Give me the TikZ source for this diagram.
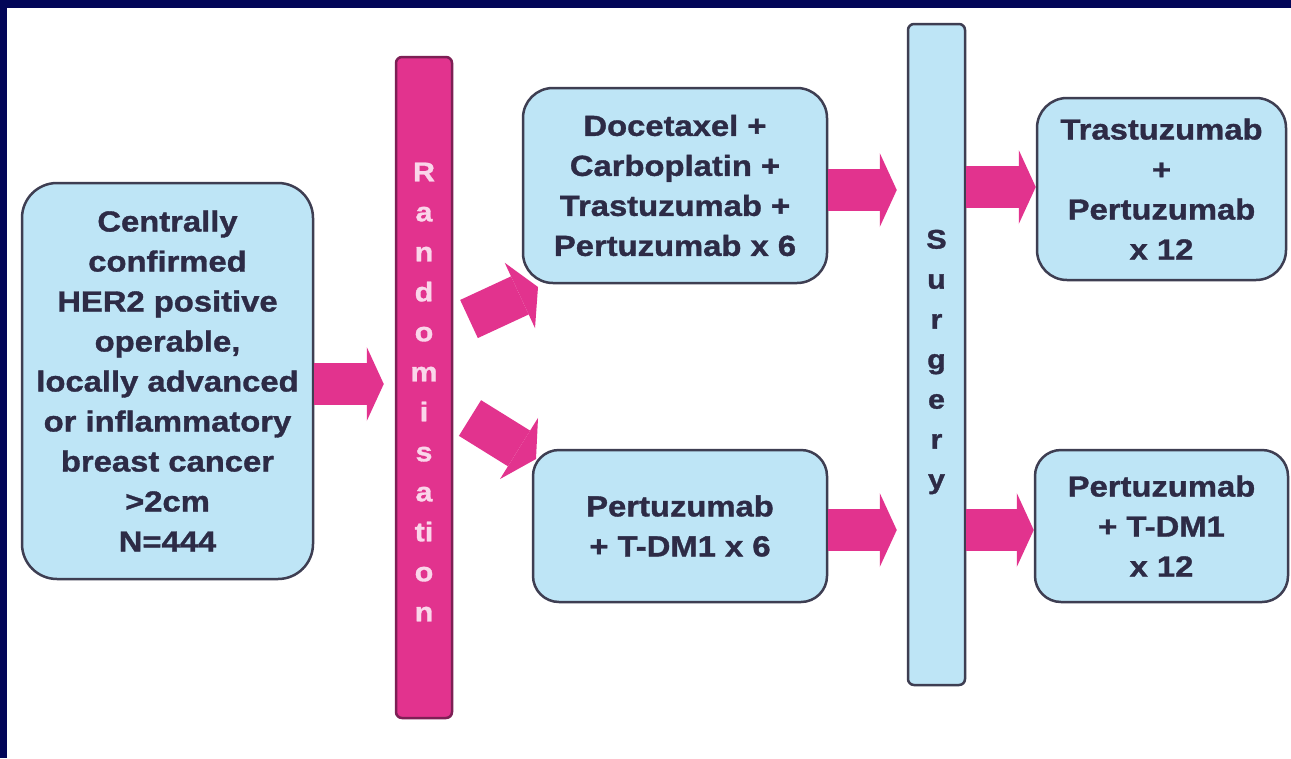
\documentclass[tikz,border=0pt]{standalone}
\usepackage{fontspec}
\setmainfont{Liberation Sans}[FakeStretch=1.13, BoldFeatures={FakeBold=1.2}]
\usetikzlibrary{arrows.meta}
\definecolor{navy}{RGB}{2,6,88}
\definecolor{pinkarrow}{RGB}{226,51,142}
\definecolor{pinkedge}{RGB}{125,32,85}
\definecolor{pinktxt}{RGB}{250,214,234}
\definecolor{boxfill}{RGB}{190,229,246}
\definecolor{boxline}{RGB}{62,62,82}
\definecolor{txt}{RGB}{45,43,70}
\tikzset{
  box/.style={draw=boxline, line width=2.5pt, fill=boxfill, rounded corners=30pt,
    align=center, text=txt, inner sep=0pt,
    font=\fontsize{29}{40}\selectfont\bfseries},
  bar/.style={line width=2.5pt, rounded corners=6pt, inner sep=0pt},
  bartxt/.style={align=center, inner sep=0pt, font=\fontsize{27}{40}\selectfont\bfseries},
  blockarrow/.style={draw=pinkarrow, line width=42pt, line cap=butt,
    -{Triangle[length=17pt,width=74pt,line width=0pt]}},
}
\begin{document}
\begin{tikzpicture}[x=1pt,y=-1pt]
\useasboundingbox (0,0) rectangle (1291,758);
\fill[white] (0,0) rectangle (1291,758);
\fill[navy] (0,0) rectangle (1291,8);
\fill[navy] (0,0) rectangle (7,758);

% boxes
\node[box, rounded corners=35pt, minimum width=291pt, minimum height=396pt] (left) at (167.5,381)
  {Centrally\\confirmed\\HER2 positive\\operable,\\locally advanced\\or inflammatory\\breast cancer\\>2cm\\N=444};
\node[box, minimum width=304pt, minimum height=195pt] (tm) at (675,185.5)
  {Docetaxel +\\Carboplatin +\\Trastuzumab +\\Pertuzumab x 6};
\node[box, rounded corners=26pt, minimum width=294pt, minimum height=152pt] (bm) at (680,526)
  {Pertuzumab\\+ T-DM1 x 6};
\node[box, minimum width=249pt, minimum height=182pt] (tr) at (1161.5,189)
  {Trastuzumab\\+\\Pertuzumab\\x 12};
\node[box, rounded corners=26pt, minimum width=253pt, minimum height=152pt] (br) at (1161.5,526)
  {Pertuzumab\\+ T-DM1\\x 12};

% bars
\node[bar, draw=pinkedge, fill=pinkarrow, minimum width=56pt, minimum height=661pt] (rand) at (424,387.5) {};
\node[bartxt, text=pinktxt] (randlabel) at (424,392)
  {R\\a\\n\\d\\o\\m\\i\\s\\a\\ti\\o\\n};
\node[bar, draw=boxline, fill=boxfill, minimum width=57pt, minimum height=661pt] (sur) at (936.5,354.5) {};
\node[bartxt, text=txt] (surlabel) at (936.5,362)
  {S\\u\\r\\g\\e\\r\\y};

% arrows
\draw[blockarrow, shorten >=11pt] ([yshift=-3pt]left.east) -- ([yshift=-3pt]left.east -| rand.west);
\coordinate (u1) at (469,319);
\coordinate (u2) at (538,287);
\coordinate (d1) at (470,418);
\coordinate (d2) at (536,459);
\draw[blockarrow, -{Triangle[length=20pt,width=72pt,line width=0pt]}] (u1) -- (u2);
\draw[blockarrow, -{Triangle[length=20pt,width=72pt,line width=0pt]}] (d1) -- (d2);
\draw[blockarrow, shorten >=10pt] ([yshift=-4.5pt]tm.east) -- ([yshift=-4.5pt]tm.east -| sur.west);
\draw[blockarrow, shorten >=10pt] ([yshift=-4pt]bm.east) -- ([yshift=-4pt]bm.east -| sur.west);
\draw[blockarrow] ([yshift=2pt]tr.west -| sur.east) -- ([yshift=2pt]tr.west);
\draw[blockarrow] ([yshift=-4pt]br.west -| sur.east) -- ([yshift=-4pt]br.west);
\end{tikzpicture}
\end{document}
